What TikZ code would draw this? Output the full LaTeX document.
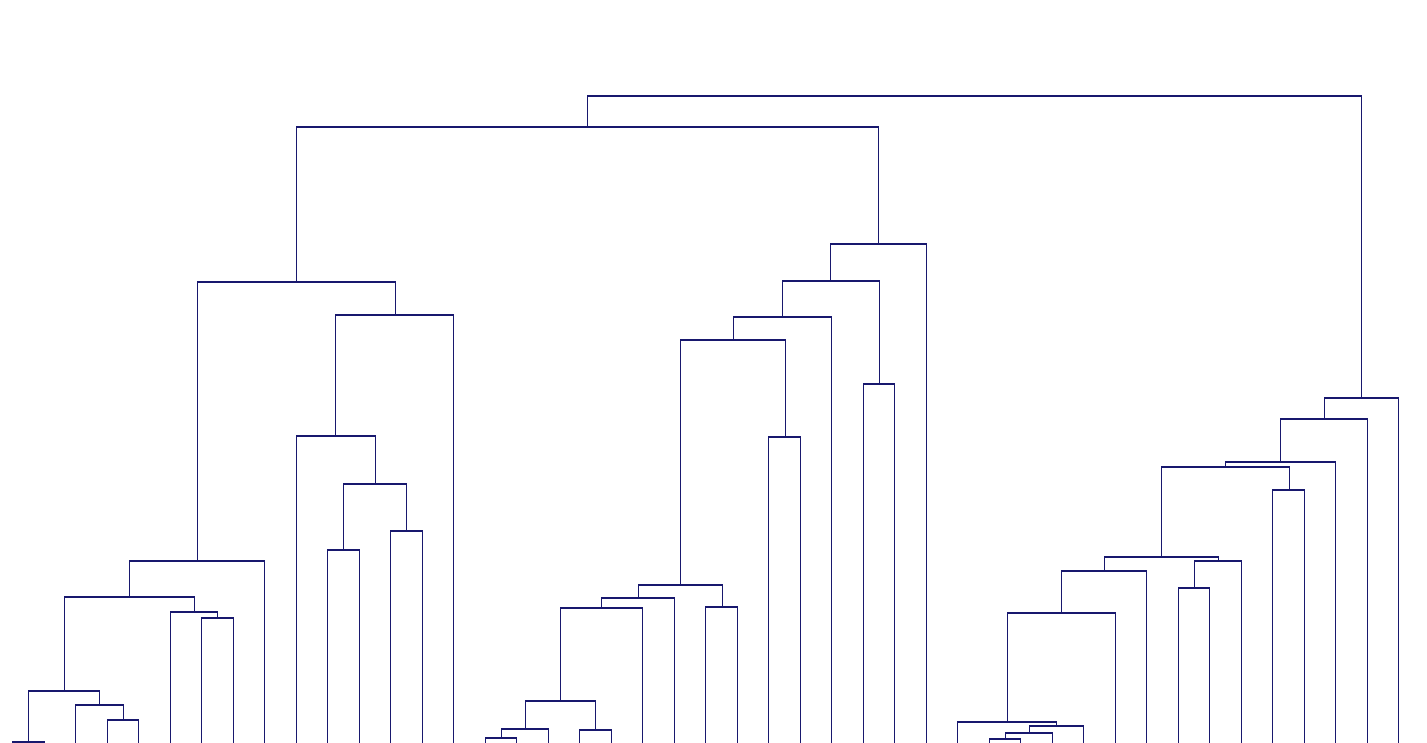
\documentclass[tikz,border=0pt]{standalone}
\usetikzlibrary{calc}
\definecolor{treeblue}{RGB}{24,24,110}

\begin{document}
\begin{tikzpicture}[x=1pt,y=-1pt,link/.style={draw=treeblue,line width=1.1pt}]
\useasboundingbox (0,0) rectangle (1427,743);
\foreach \i in {0,...,44}{\coordinate (l\i) at ({12.7+31.5*\i},743);}
\foreach \m/\x/\y/\l/\r in {a1/28.5/742/l0/l1,a2/123.5/720/l3/l4,a3/99.5/705/l2/a2,a4/64.5/691/a1/a3,a5/217.5/618/l6/l7,a6/194.5/612/l5/a5,a7/129.5/597/a4/a6,a8/197.5/561/a7/l8,
b1/343.5/550/l10/l11,b2/406.5/531/l12/l13,b3/375.5/484/b1/b2,b4/335.5/436/l9/b3,b5/395.5/315/b4/l14,ab/296.5/282/a8/b5,
c1/501.5/738/l15/l16,c2/525.5/729/c1/l17,c3/595.5/730/l18/l19,c4/560.5/701/c2/c3,c5/601.5/608/c4/l20,c6/638.5/598/c5/l21,c7/722.5/607/l22/l23,c8/680.5/585/c6/c7,c9/785.5/437/l24/l25,c10/733.5/340/c8/c9,c11/782.5/317/c10/l26,c12/879.5/384/l27/l28,c13/830.5/281/c11/c12,c14/878.5/244/c13/l29,abc/587.5/127/ab/c14,
d1/1005.5/739/l31/l32,d2/1029.5/733/d1/l33,d3/1056.5/726/d2/l34,d4/1007.5/722/l30/d3,d5/1061.5/613/d4/l35,d6/1104.5/571/d5/l36,d7/1194.5/588/l37/l38,d8/1218.5/561/d7/l39,d9/1161.5/557/d6/d8,d10/1289.5/490/l40/l41,d11/1225.5/467/d9/d10,d12/1280.5/462/d11/l42,d13/1324.5/419/d12/l43,d14/1361.5/398/d13/l44,
root/974/96/abc/d14}{\coordinate (\m) at (\x,\y);\draw[link] (\l) |- (\m) -| (\r);}
\end{tikzpicture}
\end{document}
